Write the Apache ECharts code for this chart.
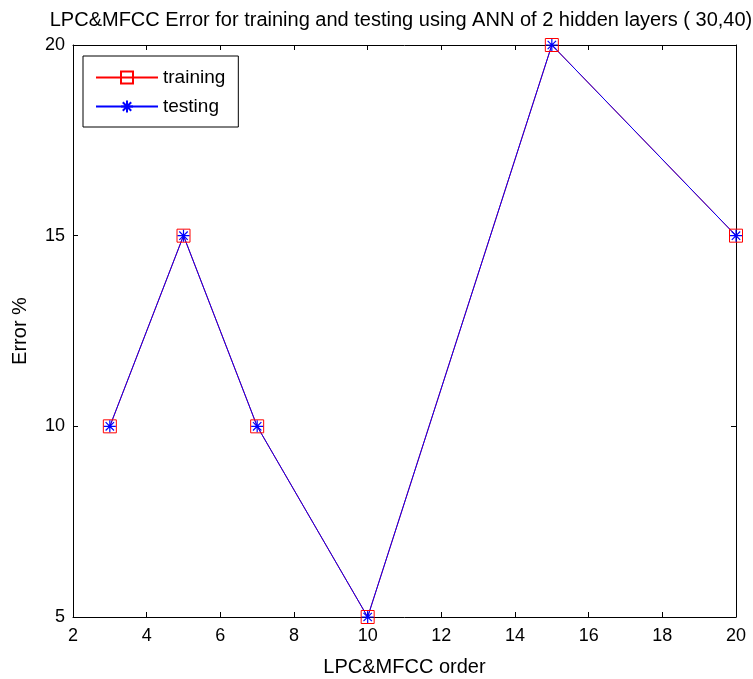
<!DOCTYPE html>
<html><head><meta charset="utf-8">
<script src="https://cdn.jsdelivr.net/npm/echarts@6/dist/echarts.min.js"></script>
<style>html,body{margin:0;padding:0;background:#fff}#c{width:753px;height:679px}</style>
</head><body><div id="c"></div>
<script>
const orders = [3, 5, 7, 10, 15, 20];
const trainingError = [10, 15, 10, 5, 20, 15];
const testingError = [10, 15, 10, 5, 20, 15];
const xTicks = [2, 4, 6, 8, 10, 12, 14, 16, 18, 20];
const yTicks = [5, 10, 15, 20];

const font = 'Liberation Sans, Arial, sans-serif';
const star = 'path://M0,5L10,5M5,0L5,10M1.5,1.5L8.5,8.5M8.5,1.5L1.5,8.5';
const chart = echarts.init(document.getElementById('c'));
const axCommon = {
  axisLine: {show: true, lineStyle: {color: '#000', width: 1}},
  axisTick: {show: true, inside: true, length: 5, lineStyle: {color: '#000'}},
  splitLine: {show: false}
};
chart.setOption({
  animation: false,
  backgroundColor: '#fff',
  title: {text: 'LPC&MFCC Error for training and testing using ANN of 2 hidden layers ( 30,40)',
    left: 396, textAlign: 'center', top: 5,
    textStyle: {fontFamily: font, fontSize: 20, fontWeight: 'normal', color: '#000'}},
  grid: {left: 73, right: 17, top: 45, bottom: 62, outerBoundsMode: 'none', containLabel: false},
  legend: {left: 83, top: 56, orient: 'vertical', width: 155,
    backgroundColor: '#fff', borderColor: '#000', borderWidth: 1,
    padding: [12, 13, 11, 12], itemGap: 10, itemWidth: 62, itemHeight: 15,
    textStyle: {fontFamily: font, fontSize: 19, color: '#000'},
    data: ['training', 'testing']},
  xAxis: [
    Object.assign({type: 'value', position: 'bottom', min: 2, max: 20, interval: 2,
      name: 'LPC&MFCC order', nameLocation: 'middle', nameGap: 40,
      nameTextStyle: {fontFamily: font, fontSize: 20, color: '#000'},
      axisLabel: {fontFamily: font, fontSize: 18, color: '#000', margin: 10}}, axCommon),
    Object.assign({type: 'value', position: 'top', min: 2, max: 20, interval: 2,
      axisLabel: {show: false}}, axCommon)
  ],
  yAxis: [
    Object.assign({type: 'value', position: 'left', min: 5, max: 20, interval: 5,
      name: 'Error %', nameLocation: 'middle', nameGap: 43,
      nameTextStyle: {fontFamily: font, fontSize: 20, color: '#000'},
      axisLabel: {fontFamily: font, fontSize: 18, color: '#000', margin: 8}}, axCommon),
    Object.assign({type: 'value', position: 'right', min: 5, max: 20, interval: 5,
      axisLabel: {show: false}}, axCommon)
  ],
  series: [
    {name: 'training', type: 'line', data: orders.map((x, i) => [x, trainingError[i]]),
      symbol: 'rect', symbolSize: 13, showAllSymbol: true,
      lineStyle: {color: '#ff0000', width: 1},
      itemStyle: {color: 'rgba(0,0,0,0)', borderColor: '#ff0000', borderWidth: 1}},
    {name: 'testing', type: 'line', data: orders.map((x, i) => [x, testingError[i]]),
      symbol: star, symbolSize: 12, showAllSymbol: true,
      lineStyle: {color: '#0000ff', width: 1},
      itemStyle: {color: 'none', borderColor: '#0000ff', borderWidth: 1.2}}
  ]
});
</script></body></html>
